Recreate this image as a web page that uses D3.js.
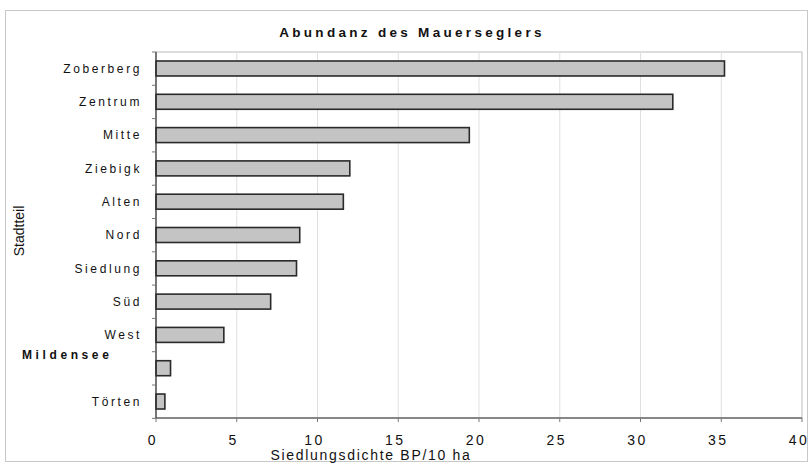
<!DOCTYPE html>
<html>
<head>
<meta charset="utf-8">
<script src="https://cdn.jsdelivr.net/npm/d3@7"></script>
<style>
  body { margin: 0; background: #fff; }
  text { font-family: "Liberation Sans", Arial, sans-serif; fill: #111; }
</style>
</head>
<body>
<svg id="chart" width="812" height="465"></svg>
<script>
const districts = ["Zoberberg", "Zentrum", "Mitte", "Ziebigk", "Alten", "Nord", "Siedlung", "Süd", "West", "Mildensee", "Törten"];
const density = [35.2, 32.0, 19.4, 12.0, 11.6, 8.9, 8.7, 7.1, 4.2, 0.9, 0.55];
const xTicks = [0, 5, 10, 15, 20, 25, 30, 35, 40];

const svg = d3.select("#chart");
const margin = { top: 52, right: 10, bottom: 47, left: 156 };
const width = 802 - margin.left;
const height = 418 - margin.top;

// outer frame
svg.append("rect")
  .attr("x", 5.5).attr("y", 10.5)
  .attr("width", 802).attr("height", 451)
  .attr("fill", "none").attr("stroke", "#c8c8c8");

const g = svg.append("g").attr("transform", `translate(${margin.left},${margin.top})`);

const x = d3.scaleLinear().domain([0, 40]).range([0, width]);
const y = d3.scaleBand().domain(districts).range([0, height]).paddingInner(0.55).paddingOuter(0.27);

// plot frame + gridlines
g.append("rect")
  .attr("width", width).attr("height", height)
  .attr("fill", "none").attr("stroke", "#bbb");

g.selectAll("line.grid")
  .data(xTicks.slice(1, -1))
  .join("line")
  .attr("class", "grid")
  .attr("x1", d => x(d)).attr("x2", d => x(d))
  .attr("y1", 0).attr("y2", height)
  .attr("stroke", "#e0e0e0");

// bars
g.selectAll("rect.bar")
  .data(districts.map((d, i) => ({ name: d, value: density[i] })))
  .join("rect")
  .attr("class", "bar")
  .attr("x", 0)
  .attr("y", d => y(d.name))
  .attr("width", d => x(d.value))
  .attr("height", y.bandwidth())
  .attr("fill", "#c4c4c4")
  .attr("stroke", "#2a2a2a")
  .attr("stroke-width", 1.6);

// axes lines
g.append("line").attr("x1", 0).attr("x2", 0).attr("y1", 0).attr("y2", height)
  .attr("stroke", "#333").attr("stroke-width", 1.2);
g.append("line").attr("x1", 0).attr("x2", width).attr("y1", height).attr("y2", height)
  .attr("stroke", "#333").attr("stroke-width", 1.2);

// y tick marks between categories
const step = y.step();
g.selectAll("line.ytick")
  .data(d3.range(districts.length + 1))
  .join("line")
  .attr("class", "ytick")
  .attr("x1", -4).attr("x2", 0)
  .attr("y1", i => i * step).attr("y2", i => i * step)
  .attr("stroke", "#777");

// x tick marks
g.selectAll("line.xtick")
  .data(xTicks)
  .join("line")
  .attr("class", "xtick")
  .attr("x1", d => x(d)).attr("x2", d => x(d))
  .attr("y1", height).attr("y2", height + 4)
  .attr("stroke", "#777");

// x tick labels
g.selectAll("text.xlab")
  .data(xTicks)
  .join("text")
  .attr("class", "xlab")
  .attr("x", d => x(d) - 3)
  .attr("y", height + 27)
  .attr("text-anchor", "middle")
  .style("font-size", "14px")
  .style("letter-spacing", "2.5px")
  .text(d => d);

// category labels
g.selectAll("text.ylab")
  .data(districts)
  .join("text")
  .attr("class", "ylab")
  .attr("x", d => d === "Mildensee" ? 22 - margin.left : -14)
  .attr("y", d => y(d) + y.bandwidth() / 2 - (d === "Mildensee" ? 13 : 0))
  .attr("dy", "0.35em")
  .attr("text-anchor", d => d === "Mildensee" ? "start" : "end")
  .style("font-size", "12px")
  .style("font-weight", d => d === "Mildensee" ? "bold" : "normal")
  .style("letter-spacing", d => d === "Mildensee" ? "3.6px" : "2.6px")
  .text(d => d);

// title
svg.append("text")
  .attr("x", 412).attr("y", 37)
  .attr("text-anchor", "middle")
  .style("font-size", "13.5px")
  .style("font-weight", "bold")
  .style("letter-spacing", "3.3px")
  .text("Abundanz des Mauerseglers");

// x axis title
svg.append("text")
  .attr("x", 371).attr("y", 460)
  .attr("text-anchor", "middle")
  .style("font-size", "14px")
  .style("letter-spacing", "1.7px")
  .text("Siedlungsdichte BP/10 ha");

// y axis title
svg.append("text")
  .attr("transform", "translate(24,231) rotate(-90)")
  .attr("text-anchor", "middle")
  .style("font-size", "14px")
  .text("Stadtteil");
</script>
</body>
</html>
